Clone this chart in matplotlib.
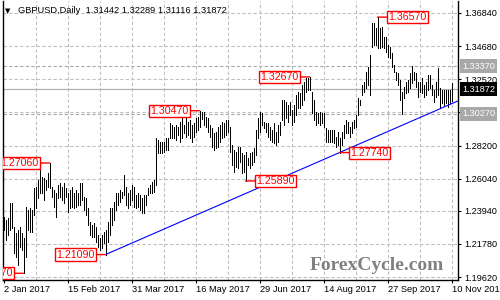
import matplotlib
matplotlib.use("Agg")
import matplotlib.pyplot as plt
import pandas as pd

# daily bars, weekdays 2 Jan - 10 Nov 2017
dates = pd.bdate_range("2017-01-02", "2017-11-10")

highs = [
    1.2354, 1.2334, 1.2347, 1.2445, 1.2445, 1.2289, 1.2250, 1.2269, 1.2289, 1.2250,
    1.2217, 1.2419, 1.2400, 1.2413, 1.2400, 1.2543, 1.2550, 1.2595, 1.2673, 1.2615,
    1.2608, 1.2595, 1.2641, 1.2706, 1.2550, 1.2530, 1.2510, 1.2563, 1.2576, 1.2550,
    1.2576, 1.2543, 1.2510, 1.2530, 1.2550, 1.2510, 1.2530, 1.2510, 1.2576, 1.2576,
    1.2484, 1.2478, 1.2413, 1.2321, 1.2302, 1.2315,
    1.2289, 1.2237, 1.2217, 1.2237, 1.2256, 1.2269, 1.2321, 1.2413, 1.2413, 1.2452,
    1.2510, 1.2510, 1.2530, 1.2517, 1.2628, 1.2550, 1.2510, 1.2530, 1.2563, 1.2550,
    1.2497, 1.2510, 1.2497, 1.2478, 1.2497, 1.2497, 1.2543, 1.2563, 1.2582, 1.2595,
    1.2869, 1.2856, 1.2843, 1.2843, 1.2843, 1.2869, 1.2869, 1.2967, 1.2954, 1.2941,
    1.2954, 1.2941, 1.2973, 1.2999, 1.2954, 1.2999,
    1.2973, 1.2986, 1.2954, 1.2967, 1.2999, 1.3006, 1.3047, 1.3040, 1.3040, 1.3006,
    1.2999, 1.2954, 1.2934, 1.2902, 1.2908, 1.2941, 1.2954, 1.2973, 1.2967, 1.2986,
    1.2986, 1.2941, 1.2823, 1.2791, 1.2778, 1.2810, 1.2810, 1.2771, 1.2758, 1.2778,
    1.2739, 1.2771, 1.2778, 1.2804, 1.2921, 1.2999, 1.3038, 1.3032, 1.2973, 1.2967,
    1.2967, 1.2941, 1.2921, 1.2967, 1.2908, 1.2954, 1.2973, 1.3117,
    1.3117, 1.3104, 1.3084, 1.3104, 1.3052, 1.3084, 1.3149, 1.3169, 1.3163, 1.3215,
    1.3234, 1.3260, 1.3260, 1.3267, 1.3169, 1.3117, 1.3038, 1.3032, 1.3038, 1.3032,
    1.3032, 1.2934, 1.2921, 1.2921, 1.2921, 1.2921, 1.2876, 1.2908, 1.2869, 1.2908,
    1.2954, 1.2986, 1.2973, 1.2941, 1.2973, 1.2986, 1.3019, 1.3130, 1.3117, 1.3215,
    1.3234, 1.3299, 1.3332, 1.3410, 1.3619, 1.3619, 1.3586,
    1.3657, 1.3586, 1.3593, 1.3528, 1.3528, 1.3475, 1.3462, 1.3423, 1.3345, 1.3299,
    1.3293, 1.3247, 1.3169, 1.3202, 1.3234, 1.3247, 1.3293, 1.3337, 1.3299, 1.3293,
    1.3234, 1.3234, 1.3260, 1.3215, 1.3234, 1.3280, 1.3280, 1.3215, 1.3182, 1.3234,
    1.3325, 1.3195, 1.3182, 1.3182, 1.3182, 1.3182, 1.3182, 1.32289,
]
lows = [
    1.2269, 1.2204, 1.2237, 1.2269, 1.2282, 1.2119, 1.2093, 1.2041, 1.2158, 1.2139,
    1.1987, 1.2093, 1.2269, 1.2256, 1.2256, 1.2367, 1.2413, 1.2478, 1.2510, 1.2510,
    1.2465, 1.2530, 1.2550, 1.2543, 1.2484, 1.2419, 1.2354, 1.2478, 1.2484, 1.2465,
    1.2445, 1.2484, 1.2387, 1.2413, 1.2419, 1.2413, 1.2419, 1.2432, 1.2432, 1.2465,
    1.2400, 1.2367, 1.2302, 1.2237, 1.2224, 1.2224,
    1.2191, 1.2158, 1.2139, 1.2152, 1.2184, 1.2109, 1.2191, 1.2237, 1.2302, 1.2334,
    1.2400, 1.2432, 1.2452, 1.2478, 1.2497, 1.2432, 1.2413, 1.2432, 1.2465, 1.2419,
    1.2413, 1.2419, 1.2400, 1.2380, 1.2380, 1.2432, 1.2497, 1.2510, 1.2510, 1.2517,
    1.2563, 1.2771, 1.2771, 1.2771, 1.2778, 1.2791, 1.2791, 1.2869, 1.2869, 1.2869,
    1.2856, 1.2889, 1.2843, 1.2869, 1.2902, 1.2876,
    1.2890, 1.2869, 1.2843, 1.2876, 1.2908, 1.2921, 1.2941, 1.2993, 1.2954, 1.2941,
    1.2908, 1.2876, 1.2810, 1.2791, 1.2804, 1.2810, 1.2843, 1.2869, 1.2876, 1.2889,
    1.2908, 1.2778, 1.2693, 1.2647, 1.2680, 1.2673, 1.2712, 1.2641, 1.2647, 1.2589,
    1.2693, 1.2673, 1.2693, 1.2713, 1.2758, 1.2869, 1.2908, 1.2954, 1.2934, 1.2908,
    1.2876, 1.2856, 1.2843, 1.2836, 1.2823, 1.2843, 1.2889, 1.2986,
    1.2954, 1.2999, 1.2973, 1.3019, 1.2954, 1.2973, 1.3019, 1.3065, 1.3065, 1.3084,
    1.3117, 1.3169, 1.3182, 1.3182, 1.3032, 1.2986, 1.2954, 1.2967, 1.2954, 1.2967,
    1.2941, 1.2843, 1.2843, 1.2843, 1.2843, 1.2836, 1.2810, 1.2823, 1.2774, 1.2823,
    1.2869, 1.2902, 1.2902, 1.2876, 1.2902, 1.2934, 1.2941, 1.3019, 1.3084, 1.3149,
    1.3169, 1.3195, 1.3215, 1.3149, 1.3462, 1.3475, 1.3475,
    1.3456, 1.3456, 1.3462, 1.3456, 1.3430, 1.3397, 1.3391, 1.3332, 1.3299, 1.3247,
    1.3215, 1.3117, 1.3027, 1.3130, 1.3163, 1.3169, 1.3195, 1.3228, 1.3247, 1.3202,
    1.3136, 1.3169, 1.3163, 1.3136, 1.3149, 1.3182, 1.3195, 1.3149, 1.3104, 1.3136,
    1.3149, 1.3065, 1.3097, 1.3084, 1.3097, 1.3071, 1.3097, 1.31116,
]
last_ohlc = [1.31442, 1.32289, 1.31116, 1.31872]

y_ticks = [1.19620, 1.21780, 1.23940, 1.26040, 1.28200, 1.30360, 1.32520, 1.34680, 1.36840]
# swing labels: bar index, which end of the bar, side of the box
swings = [(10, "low", "left"), (23, "high", "left"), (51, "low", "left"),
          (98, "high", "left"), (121, "low", "right"), (153, "high", "left"),
          (168, "low", "right"), (187, "high", "right")]
levels = [1.33370, 1.30270]
trend_from = (51, 168)

plt.rcParams["font.family"] = ["Liberation Sans", "DejaVu Sans"]

W, H = 500, 300
fig = plt.figure(figsize=(5, 3), dpi=100)
ax = fig.add_axes([3 / W, 20 / H, 455 / W, 279 / H])
n = len(highs)
ax.set_xlim(-0.25, 227.25)
ax.set_ylim(1.19432, 1.37622)

grid_kw = dict(color="#c0c0c0", lw=0.8, ls=(0, (3, 2)), zorder=0)
for v in y_ticks:
    ax.axhline(v, **grid_kw)
for i in range(16, 240, 16):
    ax.axvline(i, **grid_kw)

for v in levels:
    ax.axhline(v, color="#a8a8a8", lw=0.8, ls=(0, (3, 2)), zorder=1)
ax.axhline(last_ohlc[3], color="#b0b0b0", lw=0.9, zorder=1)

ax.vlines(range(n), lows, highs, colors="black", lw=0.72, antialiased=False, zorder=3)

# trend line from the first low through the second, out to the right edge
a, b = trend_from
slope = (lows[b] - lows[a]) / (b - a)
xe = ax.get_xlim()[1]
ax.plot([a, xe], [lows[a], lows[a] + slope * (xe - a)], color="#0000ff", lw=0.8, zorder=4)

for i, kind, side in swings:
    p = highs[i] if kind == "high" else lows[i]
    dx = -11 if side == "left" else 11
    ann = ax.annotate(f"{p:.5f}", xy=(i, p), xytext=(dx, 0), textcoords="offset pixels",
                      ha="right" if side == "left" else "left", va="center",
                      color="red", fontsize=7.7,
                      bbox=dict(boxstyle="square,pad=0.1", fc="white", ec="red", lw=1),
                      arrowprops=dict(arrowstyle="-", color="red", lw=1, shrinkA=0, shrinkB=0),
                      zorder=5)
    ann.set_clip_path(ax.patch)

# price tags on the right axis
for v, fc in [(levels[0], "#a8a8a8"), (last_ohlc[3], "black"), (levels[1], "#a8a8a8")]:
    ax.annotate(f"{v:.5f}", xy=(1, v), xycoords=ax.get_yaxis_transform(),
                xytext=(4, 0), textcoords="offset pixels", ha="left", va="center",
                color="white", fontsize=6.6, annotation_clip=False,
                bbox=dict(boxstyle="square,pad=0.25", fc=fc, ec="none"))

ax.yaxis.tick_right()
ax.set_yticks(y_ticks)
ax.set_yticklabels(["" if any(abs(v - l) < 0.002 for l in levels) else f"{v:.5f}"
                    for v in y_ticks])
ax.tick_params(axis="y", length=2.5, pad=2, labelsize=6.6, width=0.8)

xt = list(range(0, n, 32))
ax.set_xticks(xt)
ax.set_xticklabels([f"{dates[i].day} {dates[i]:%b %Y}" for i in xt])
for lbl in ax.get_xticklabels():
    lbl.set_ha("left")
ax.tick_params(axis="x", length=2.5, pad=1, labelsize=6.7, width=0.8)

ax.spines["top"].set_visible(False)
for s in ("left", "right", "bottom"):
    ax.spines[s].set_linewidth(1.0)

fig.text(5 / W, 1 - 11 / H, "\u25bc", family="DejaVu Sans", fontsize=5, va="center")
fig.text(18 / W, 1 - 10.5 / H,
         "GBPUSD,Daily  " + " ".join(f"{v:.5f}" for v in last_ohlc),
         fontsize=6.7, va="center")
fig.text(310 / W, 1 - 270 / H, "ForexCycle.com", family="Liberation Serif",
         weight="bold", fontsize=14, color="#808080", va="baseline")

fig.savefig("out.png", dpi=100)
